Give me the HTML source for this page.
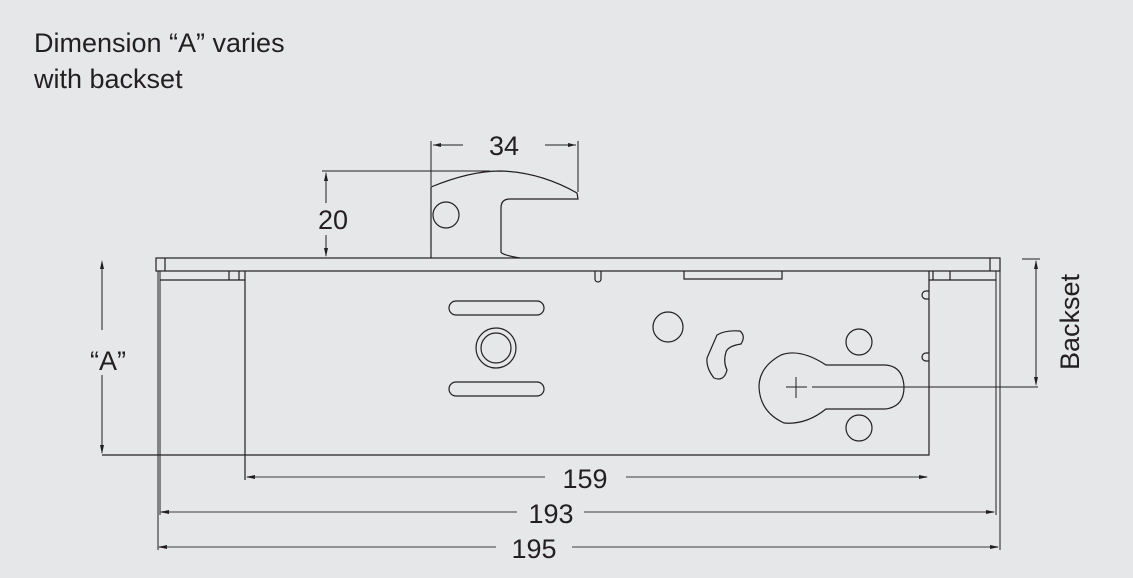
<!DOCTYPE html>
<html><head><style>
html,body{margin:0;padding:0;background:#e6e7e8;}
svg{display:block;}
text{font-family:"Liberation Sans",sans-serif;fill:#231f20;}
</style></head><body>
<svg width="1133" height="578" viewBox="0 0 1133 578" xmlns="http://www.w3.org/2000/svg">
<rect width="1133" height="578" fill="#e6e7e8"/>
<text x="34" y="52" font-size="27">Dimension “A” varies</text>
<text x="34" y="88" font-size="27">with backset</text>
<g fill="none" stroke="#231f20" stroke-width="1.2">
<!-- faceplate -->
<rect x="156" y="258" width="844" height="13"/>
<line x1="165" y1="258" x2="165" y2="271"/>
<line x1="990" y1="258" x2="990" y2="271"/>
<!-- left inner -->
<line x1="158" y1="271" x2="158" y2="550" stroke-width="1"/>
<line x1="160" y1="271" x2="160" y2="515" stroke-width="1"/>
<path d="M160 280 H245 M229 271 V280 M239 271 V280"/>
<!-- body -->
<path d="M245 271 V480 M245 455 H929 V271" />
<line x1="102" y1="455" x2="245" y2="455"/>
<!-- right inner -->
<line x1="996" y1="271" x2="996" y2="515" stroke-width="1"/>
<line x1="1000" y1="271" x2="1000" y2="550" stroke-width="1"/>
<path d="M929 280 H996 M933 271 V280 M950 271 V280"/>
<path d="M929 291 h-3 a4 4 0 0 0 0 8 h3 M929 353 h-3 a4 4 0 0 0 0 8 h3"/>
<!-- top slot & U -->
<path d="M684 271 V279 H782 V271"/>
<path d="M595 271 V279 a3 3 0 0 0 6 0 V271"/>
<!-- latch -->
<path d="M431 258 V187 Q470 171 500 171 Q540 172 577 193 L578 199 L510 199 Q501 199 501 208 V252 Q502 255 520 258"/>
<circle cx="446" cy="215" r="13"/>
<!-- slots -->
<rect x="449" y="301" width="95" height="14" rx="7"/>
<rect x="449" y="382" width="95" height="14" rx="7"/>
<circle cx="496" cy="348" r="20"/>
<circle cx="496" cy="348" r="15"/>
<!-- right features -->
<circle cx="668" cy="327" r="15"/>
<path d="M717 335 Q725 330 740 331 Q746 336 741 344 Q728 346 726 352 Q723 362 727 370 Q724 382 714 378 Q706 368 707 358 Z"/>
<path d="M826 365 Q800 348 781 355 Q759 367 759 387 Q760 412 784 423 Q806 425 826 409 H885 Q904 407 904 387 Q903 366 885 365 Z"/>
<circle cx="859" cy="342" r="13"/>
<circle cx="859" cy="428" r="13"/>
<path d="M786 387 H807 M796 377 V398" stroke-width="1"/>
<line x1="812" y1="387" x2="1038" y2="387" stroke-width="1"/>
<!-- dims -->
<g stroke-width="1">
<path d="M431 186 V141 M578 192 V141 M433 145 H463 M545 145 H576"/>
<path d="M322 171 H490 M326 173 V203 M326 235 V256"/>
<path d="M102 262 V330 M102 375 V453"/>
<path d="M1036 261 V384 M1022 259 H1040"/>
</g>
<g stroke="#777" stroke-width="1.6">
<path d="M247 477 H545 M626 477 H927"/>
<path d="M160 512 H517 M584 512 H994"/>
<path d="M158 547 H496 M572 547 H998"/>
</g>
</g>
<g fill="#231f20">
<path d="M433 145 l8 -2 v4z M576 145 l-8 -2 v4z"/>
<path d="M326 172 l-2 9 h4z M326 257 l-2 -9 h4z"/>
<path d="M102 260 l-2 9 h4z M102 454 l-2 -9 h4z"/>
<path d="M1036 260 l-2 9 h4z M1036 386 l-2 -9 h4z"/>
<path d="M246 477 l9 -2 v4z M928 477 l-9 -2 v4z"/>
<path d="M160 512 l9 -2 v4z M995 512 l-9 -2 v4z"/>
<path d="M158 547 l9 -2 v4z M999 547 l-9 -2 v4z"/>
</g>
<text x="504" y="155" font-size="27" text-anchor="middle">34</text>
<text x="333" y="229" font-size="27" text-anchor="middle">20</text>
<text x="108" y="370" font-size="27" text-anchor="middle">“A”</text>
<text x="585" y="488" font-size="27" text-anchor="middle">159</text>
<text x="551" y="523" font-size="27" text-anchor="middle">193</text>
<text x="534" y="558" font-size="27" text-anchor="middle">195</text>
<text transform="translate(1079,322) rotate(-90)" font-size="27" text-anchor="middle">Backset</text>
</svg>
</body></html>
